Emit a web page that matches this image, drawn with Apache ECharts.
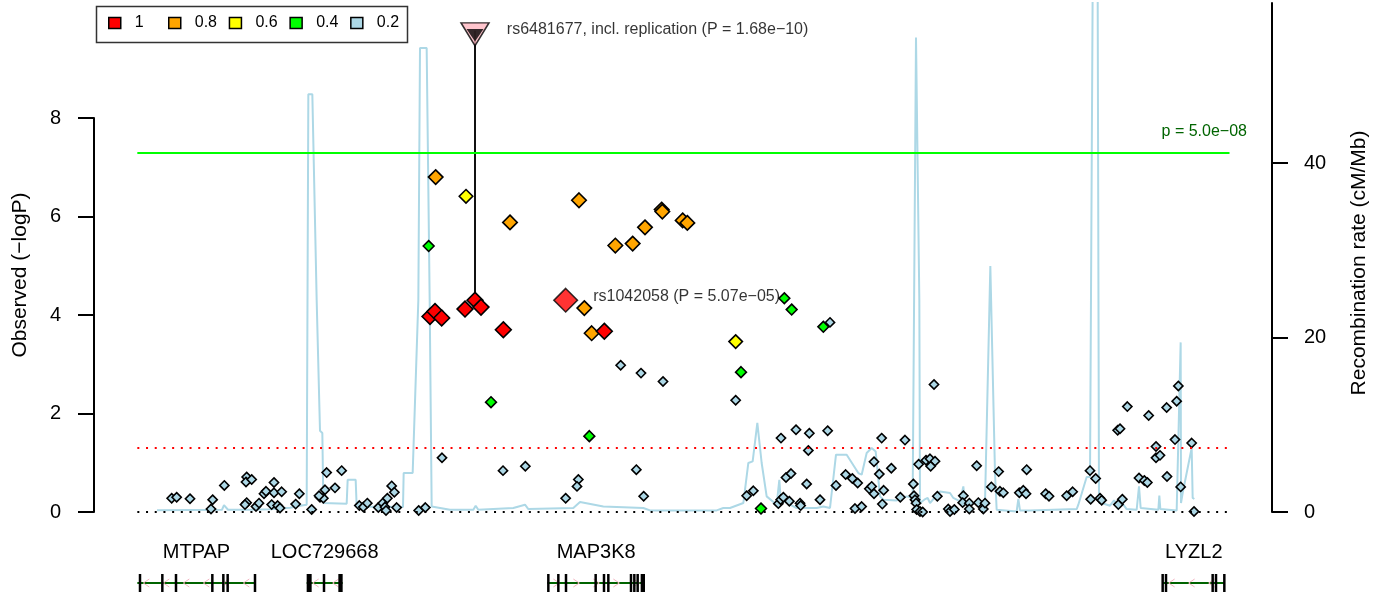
<!DOCTYPE html>
<html>
<head>
<meta charset="utf-8">
<title>Regional association plot</title>
<script src="https://cdn.jsdelivr.net/npm/echarts@6/dist/echarts.min.js"></script>
<style>
  html, body { margin: 0; background: #fff; }
  #chart { width: 1387px; height: 600px; }
</style>
</head>
<body>
<div id="chart"></div>
<script>
// position in kb from the left edge of the plotted region, -log10(P)
const snpsR2_1 = [[100.8, 3.97], [102.3, 4.07], [104.3, 3.94], [111.3, 4.12], [114.3, 4.30],
  [116.1, 4.16], [122.8, 3.70], [153.1, 3.67]]
const snpsR2_08 = [[102.5, 6.80], [124.8, 5.88], [145.5, 6.33], [147.1, 4.14], [149.3, 3.63],
  [156.4, 5.41], [161.6, 5.45], [165.3, 5.78], [170.3, 6.14], [170.5, 6.10], [176.6, 5.92], [178.0, 5.87]]
const snpsR2_06 = [[111.6, 6.41], [192.5, 3.46]]
const snpsR2_04 = [[100.4, 5.40], [119.1, 2.23], [148.6, 1.54], [194.1, 2.84], [200.1, 0.07],
  [207.1, 4.34], [209.3, 4.11], [218.8, 3.76]]
const snpsR2_02 = [
  [23.3, 0.28], [24.8, 0.30], [28.8, 0.27], [35.6, 0.25], [35.1, 0.06], [39.1, 0.54], [45.8, 0.71],
  [45.6, 0.61], [47.3, 0.66], [45.8, 0.19], [45.3, 0.15], [48.6, 0.11], [49.5, 0.18], [51.0, 0.37],
  [51.6, 0.42], [54.0, 0.60], [54.0, 0.39], [56.3, 0.41], [53.3, 0.15], [55.1, 0.13], [55.8, 0.08],
  [60.5, 0.16], [61.6, 0.37], [65.3, 0.05], [69.8, 0.80], [74.3, 0.84], [72.3, 0.49], [69.3, 0.45],
  [67.8, 0.30], [68.8, 0.28], [67.5, 0.33], [79.6, 0.13], [80.8, 0.10], [82.0, 0.18], [85.3, 0.09],
  [86.6, 0.18], [87.3, 0.10], [87.6, 0.03], [88.0, 0.28], [89.3, 0.53], [90.1, 0.40], [90.8, 0.09],
  [97.4, 0.03], [99.4, 0.09],
  [104.4, 1.10], [122.7, 0.84], [129.4, 0.93], [145.3, 0.66], [144.9, 0.52], [141.5, 0.28],
  [162.7, 0.86], [164.9, 0.32], [158.0, 2.98], [164.1, 2.82], [170.7, 2.65],
  [192.5, 2.27], [195.8, 0.33], [197.8, 0.43], [206.1, 1.50], [210.6, 1.67], [214.6, 1.60],
  [220.1, 1.65], [214.3, 1.25], [236.3, 1.50], [243.3, 1.46], [252.0, 2.59], [207.6, 0.70],
  [209.1, 0.78], [213.8, 0.57], [205.3, 0.17], [206.0, 0.25], [206.8, 0.30], [208.6, 0.22],
  [211.8, 0.18], [212.0, 0.13], [217.8, 0.25], [222.6, 0.54], [225.5, 0.76], [227.5, 0.68],
  [229.1, 0.59], [228.3, 0.07], [230.3, 0.11], [232.6, 0.47], [233.3, 0.52], [234.0, 0.37],
  [234.0, 1.02], [235.6, 0.77], [236.9, 0.44], [236.5, 0.16], [239.2, 0.89], [241.9, 0.30],
  [245.8, 0.57], [246.0, 0.33], [246.3, 0.25], [246.6, 0.18], [246.8, 0.05], [247.8, 0.01],
  [248.6, 0.00], [247.4, 0.97], [249.6, 1.05], [250.8, 1.08], [252.3, 1.03], [251.0, 0.93],
  [253.0, 0.32], [256.3, 0.06], [256.8, 0.01], [258.1, 0.05], [260.8, 0.33], [260.6, 0.19],
  [262.6, 0.18], [262.6, 0.06], [265.3, 0.19], [266.8, 0.06], [267.3, 0.18], [264.8, 0.94],
  [269.2, 0.51], [271.4, 0.82], [271.8, 0.42], [272.8, 0.39], [277.6, 0.39], [278.8, 0.44],
  [279.8, 0.86], [279.6, 0.37], [220.8, 3.85],
  [285.5, 0.37], [286.5, 0.32], [291.8, 0.33], [293.6, 0.41], [298.8, 0.84], [300.5, 0.68],
  [299.0, 0.26], [301.8, 0.28], [302.3, 0.24], [307.3, 0.15], [308.5, 0.26], [307.1, 1.66],
  [307.8, 1.69], [310.0, 2.14], [313.5, 0.69], [315.1, 0.64], [316.0, 0.60], [316.4, 1.96],
  [318.6, 1.33], [318.6, 1.10], [319.8, 1.15], [321.9, 0.72], [321.8, 2.12], [324.3, 1.47],
  [324.8, 2.25], [325.3, 2.56], [326.0, 0.51], [329.3, 1.40], [330.0, 0.01]
]

// index SNP and replicated SNP
const leadSnp = [[141.5, 4.30]]
const leadLabel = 'rs1042058 (P = 5.07e−05)'
const replPos = 114.3
const replDiscoveryLogP = 4.30
const replLogP = 9.77
const replLabel = 'rs6481677, incl. replication (P = 1.68e−10)'

// recombination rate (cM/Mb)
const recombPos = [18.9, 38.4, 39.0, 40.2, 46.8, 52.8, 58.8, 61.8, 63.8, 64.3, 65.5, 66.8, 67.8, 68.5,
  68.8, 75.8, 76.1, 78.5, 78.8, 92.7, 92.9, 95.6, 97.3, 97.8, 99.8, 100.7, 101.3, 106.8, 113.8, 114.5,
  115.3, 125.8, 129.3, 130.3, 143.8, 145.8, 152.8, 164.8, 166.8, 186.8, 188.8, 190.8, 194.8, 196.3,
  197.6, 199.0, 200.3, 201.8, 204.8, 205.6, 206.0, 208.8, 210.8, 216.8, 218.8, 220.8, 222.6, 225.8,
  229.3, 230.3, 231.8, 233.3, 234.5, 235.8, 236.8, 240.8, 243.8, 245.6, 246.6, 247.6, 247.8, 249.1,
  250.1, 250.8, 253.8, 256.8, 257.8, 259.8, 260.8, 261.3, 267.3, 268.9, 270.3, 270.8, 276.8, 277.3,
  277.8, 280.8, 294.8, 295.3, 297.8, 298.8, 299.6, 301.1, 301.5, 302.3, 304.8, 306.0, 307.3, 308.8,
  309.8, 312.8, 313.5, 314.0, 319.3, 319.6, 319.9, 324.8, 326.0, 326.1, 326.6, 329.3, 329.6, 330.1]
const recombRate = [0.21, 0.26, 0.78, 0.26, 0.26, 0.32, 0.49, 0.72, 0.84, 47.9, 47.9, 24.3, 9.32, 9.06,
  1.03, 0.95, 3.70, 3.70, 0.64, 0.57, 4.47, 4.47, 24.3, 53.2, 53.2, 24.3, 0.64, 0.26, 0.26, 0.72,
  0.26, 0.46, 0.84, 0.34, 0.46, 1.15, 0.64, 0.46, 0.18, 0.18, 0.46, 0.46, 1.03, 5.62,
  5.80, 10.21, 5.62, 1.79, 0.84, 3.70, 1.41, 0.84, 0.46, 0.46, 0.64, 0.46, 6.57, 6.57,
  4.47, 4.28, 6.77, 7.34, 6.95, 1.79, 1.41, 1.33, 1.79, 1.61, 54.4, 24.3, 1.03, 1.41,
  1.61, 1.03, 2.36, 2.18, 1.61, 1.22, 2.94, 1.03, 1.03, 28.2, 4.47, 0.26, 0.07, 1.49,
  0.18, 0.18, 0.34, 0.84, 4.01, 4.01, 60, 60, 1.03, 1.03, 0.72, 1.33, 0.64, 0.84,
  0.34, 0.26, 2.94, 0.46, 0.26, 1.87, 0.34, 0.18, 19.45, 1.03, 2.18, 7.34, 1.61, 1.49]

// genes: span, strand and exons (kb)
const geneNames = ['MTPAP', 'LOC729668', 'MAP3K8', 'LYZL2']
const geneStart = [13.0, 63.8, 136.0, 320.6]
const geneEnd = [48.5, 74.6, 165.3, 339.3]
const geneStrand = [-1, -1, 1, -1]
const geneExons = [
  [[13.8, 13.8], [20.5, 20.5], [24.6, 24.6], [35.5, 35.5], [38.8, 38.8], [40.1, 40.1], [48.3, 48.3]],
  [[63.8, 65.3], [69.0, 69.0], [73.3, 74.6]],
  [[136.3, 136.3], [139.3, 139.3], [141.6, 141.6], [150.5, 150.5], [153.0, 153.0], [154.3, 154.3],
    [161.1, 161.1], [162.1, 162.1], [163.1, 163.1], [164.0, 165.3]],
  [[320.6, 320.6], [321.6, 321.6], [335.6, 335.6], [336.6, 336.6], [339.1, 339.1]]
]

const regionStart = 13.0
const regionEnd = 340.65
const genomeWideLogP = 7.30
const nominalLogP = 1.301
const leftTicks = [0, 2, 4, 6, 8]
const rightTicks = [0, 20, 40]
const legendNames = ['1', '0.8', '0.6', '0.4', '0.2']

const FONT = '"Liberation Sans", Arial, Helvetica, sans-serif'
const xMax = 353.4

const chart = echarts.init(document.getElementById('chart'))

function snpSeries(name, data, color, size) {
  return {
    name: name,
    type: 'scatter',
    xAxisIndex: 0,
    yAxisIndex: 0,
    data: data,
    symbol: 'diamond',
    symbolSize: size,
    itemStyle: { color: color, borderColor: '#000', borderWidth: 1.6, opacity: 1 },
    silent: true,
    z: 3
  }
}

const axisStyle = {
  axisLine: { show: true, lineStyle: { color: '#000', width: 2 } },
  splitLine: { show: false }
}

// R legend has equal-width columns; ECharts sizes items by text,
// so the first key gets its own legend and the frame is drawn separately
function legendPart(names, left) {
  return {
    data: names,
    left: left,
    top: 4,
    icon: 'rect',
    itemWidth: 12,
    itemHeight: 11,
    itemGap: 11.7,
    selectedMode: false,
    itemStyle: { borderColor: '#000', borderWidth: 1.5 },
    textStyle: { fontSize: 16, fontFamily: FONT, color: '#000', padding: [0, 0, 0, 9] },
    padding: [11, 0, 11, 0]
  }
}

chart.setOption({
  animation: false,
  grid: [
    { left: 94, right: 115, top: 3, height: 509, outerBoundsMode: 'none' },
    { left: 94, right: 115, top: 118, height: 394, outerBoundsMode: 'none' },
    { left: 94, right: 115, top: 574, height: 18, outerBoundsMode: 'none' }
  ],
  xAxis: [
    { gridIndex: 0, type: 'value', min: 0, max: xMax, show: false },
    { gridIndex: 1, type: 'value', min: 0, max: xMax, show: false },
    { gridIndex: 2, type: 'value', min: 0, max: xMax, show: false }
  ],
  yAxis: [
    { gridIndex: 0, type: 'value', min: 0, max: 10.335, show: false },
    {
      gridIndex: 0, type: 'value', position: 'right', min: 0, max: 58.37,
      ...axisStyle,
      axisTick: { show: true, length: 16, lineStyle: { color: '#000', width: 2 }, customValues: rightTicks },
      axisLabel: { customValues: rightTicks, fontSize: 20, fontFamily: FONT, color: '#000', margin: 32, padding: [5, 0, 0, 0] }
    },
    {
      gridIndex: 1, type: 'value', min: 0, max: 8, interval: 2,
      ...axisStyle,
      axisTick: { show: true, length: 16, lineStyle: { color: '#000', width: 2 }, customValues: leftTicks },
      axisLabel: { customValues: leftTicks, fontSize: 20, fontFamily: FONT, color: '#000', margin: 33, padding: [5, 0, 0, 0] }
    },
    { gridIndex: 2, type: 'value', min: 0, max: 1, show: false }
  ],
  legend: [
    legendPart(legendNames.slice(0, 1), 108),
    legendPart(legendNames.slice(1), 168)
  ],
  graphic: [
    {
      type: 'rect', left: 94, top: 4, z: 10,
      shape: { width: 311, height: 36 },
      style: { fill: 'none', stroke: '#333', lineWidth: 1.5 }
    },
    {
      type: 'text', x: 20, y: 275, rotation: Math.PI / 2,
      style: { text: 'Observed (−logP)', fontSize: 21, fontFamily: FONT, fill: '#000', align: 'center', verticalAlign: 'middle' }
    },
    {
      type: 'text', x: 1359, y: 263, rotation: Math.PI / 2,
      style: { text: 'Recombination rate (cM/Mb)', fontSize: 21, fontFamily: FONT, fill: '#000', align: 'center', verticalAlign: 'middle' }
    }
  ],
  series: [
    {
      name: 'recombination',
      type: 'line',
      xAxisIndex: 0,
      yAxisIndex: 1,
      data: recombPos.map((p, i) => [p, recombRate[i]]),
      symbol: 'none',
      clip: true,
      lineStyle: { color: '#ADD8E6', width: 2 },
      silent: true,
      z: 1
    },
    {
      name: 'replication line',
      type: 'line',
      xAxisIndex: 0,
      yAxisIndex: 0,
      data: [[replPos, replDiscoveryLogP], [replPos, replLogP]],
      symbol: 'none',
      lineStyle: { color: '#111', width: 2 },
      silent: true,
      z: 2,
      markLine: {
        silent: true,
        symbol: 'none',
        animation: false,
        data: [
          [
            {
              coord: [regionStart, genomeWideLogP],
              lineStyle: { color: '#00FF00', width: 2, type: 'solid' },
              label: {
                show: true, formatter: 'p = 5.0e−08', position: 'insideEndTop', distance: [-17.5, 13],
                color: '#006400', fontSize: 16, fontFamily: FONT
              }
            },
            { coord: [regionEnd, genomeWideLogP] }
          ],
          [
            { coord: [regionStart, nominalLogP], lineStyle: { color: '#FF0000', width: 2, type: [2, 6.7] }, label: { show: false } },
            { coord: [regionEnd, nominalLogP] }
          ],
          [
            { coord: [regionStart, 0], lineStyle: { color: '#000', width: 2, type: [2, 6.7] }, label: { show: false } },
            { coord: [regionEnd, 0] }
          ]
        ]
      }
    },
    snpSeries('0.2', snpsR2_02, '#ADD8E6', 9.2),
    snpSeries('0.4', snpsR2_04, '#00FF00', 10.8),
    snpSeries('0.6', snpsR2_06, '#FFFF00', 13.5),
    snpSeries('0.8', snpsR2_08, '#FFA500', 14.5),
    snpSeries('1', snpsR2_1, '#FF0000', 15.8),
    {
      name: 'rs1042058',
      type: 'scatter',
      data: leadSnp,
      symbol: 'diamond',
      symbolSize: 23.5,
      itemStyle: { color: '#FF0000', borderColor: '#000', borderWidth: 1.6 },
      label: {
        show: true, position: 'right', distance: 15, offset: [0, -4], formatter: leadLabel,
        fontSize: 16, fontFamily: FONT, color: '#000'
      },
      silent: true,
      z: 5
    },
    {
      name: 'rs6481677',
      type: 'scatter',
      data: [[replPos, replLogP]],
      symbol: 'path://M0,0L28,0L14,23Z',
      symbolSize: [28, 23],
      symbolOffset: [0, 3.5],
      itemStyle: { color: '#FFB6C1', borderColor: '#000', borderWidth: 1.5 },
      label: {
        show: true, position: 'right', distance: 17, offset: [0, -5], formatter: replLabel,
        fontSize: 16, fontFamily: FONT, color: '#000'
      },
      silent: true,
      z: 6
    },
    {
      name: 'rs6481677 inner',
      type: 'scatter',
      data: [[replPos, replLogP]],
      symbol: 'path://M0,0L20,0L10,15Z',
      symbolSize: [17, 12.5],
      symbolOffset: [0, 4.5],
      itemStyle: { color: '#000' },
      silent: true,
      z: 7
    },
    {
      name: 'genes',
      type: 'custom',
      xAxisIndex: 2,
      yAxisIndex: 3,
      silent: true,
      data: geneNames.map((g, i) => [geneStart[i], 0.5, geneEnd[i], i]),
      renderItem: function (params, api) {
        const i = api.value(3)
        const a = api.coord([api.value(0), 0.5])
        const b = api.coord([api.value(2), 0.5])
        const cy = a[1]
        const dir = geneStrand[i]
        const children = [{
          type: 'line',
          shape: { x1: a[0], y1: cy, x2: b[0], y2: cy },
          style: { stroke: '#006400', lineWidth: 2 }
        }]
        for (let x = a[0] + 9; x < b[0] - 4; x += 20) {
          children.push({
            type: 'polyline',
            shape: { points: [[x - 3 * dir, cy - 4], [x + 3 * dir, cy], [x - 3 * dir, cy + 4]] },
            style: { stroke: '#F2B3C0', lineWidth: 1, fill: null }
          })
        }
        geneExons[i].forEach(function (ex) {
          const x1 = api.coord([ex[0], 0.5])[0]
          const x2 = api.coord([ex[1], 0.5])[0]
          const w = Math.max(2.5, x2 - x1)
          const cx = (x1 + x2) / 2
          children.push({
            type: 'rect',
            shape: { x: cx - w / 2, y: cy - 9, width: w, height: 18 },
            style: { fill: '#000' }
          })
        })
        children.push({
          type: 'text',
          style: {
            text: geneNames[i], x: (a[0] + b[0]) / 2, y: cy - 31,
            align: 'center', verticalAlign: 'middle',
            fontSize: 20, fontFamily: FONT, fill: '#000'
          }
        })
        return { type: 'group', children: children }
      }
    }
  ]
})
</script>
</body>
</html>
